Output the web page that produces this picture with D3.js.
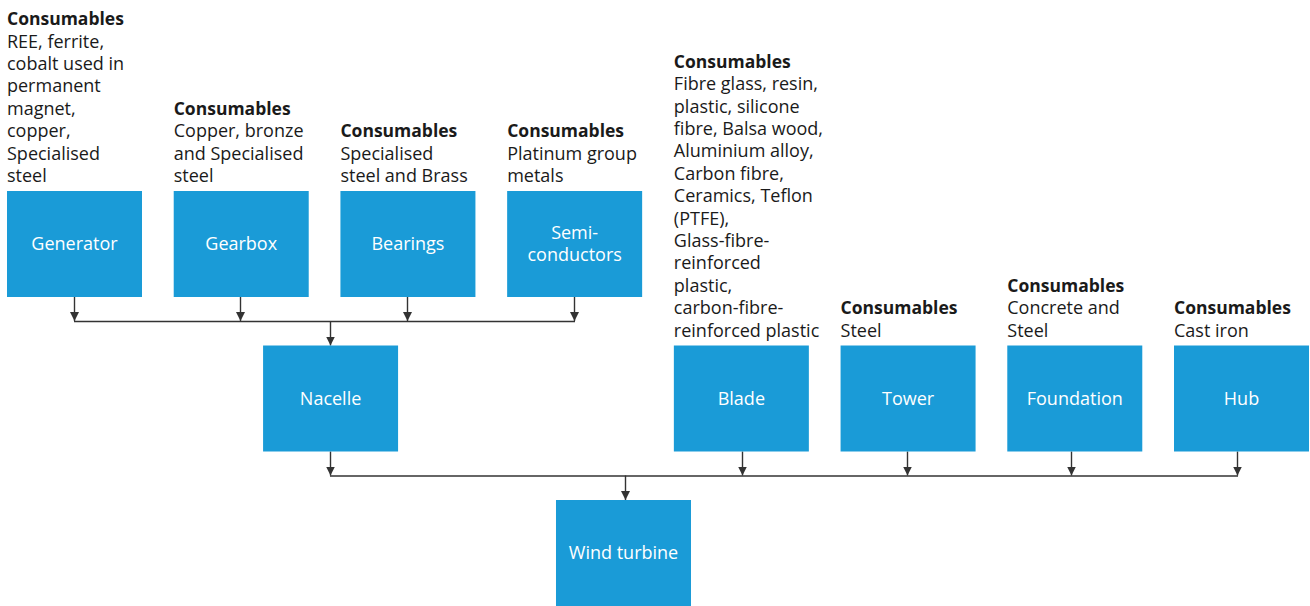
<!DOCTYPE html>
<html>
<head>
<meta charset="utf-8">
<script src="https://cdn.jsdelivr.net/npm/d3@7/dist/d3.min.js"></script>
<style>
	body { margin: 0; background: #fff; }
	svg { display: block; font-family: "Open Sans", sans-serif; }
</style>
</head>
<body>
<script>
"use strict";

// Parts of each tier (bottom-up)
let parts = ["Generator", "Gearbox", "Bearings", "Semi-|conductors"];
let partConsumables = [
	["REE, ferrite,", "cobalt used in", "permanent", "magnet,", "copper,", "Specialised", "steel"],
	["Copper, bronze", "and Specialised", "steel"],
	["Specialised", "steel and Brass"],
	["Platinum group", "metals"]
];

let assemblies = ["Nacelle", "Blade", "Tower", "Foundation", "Hub"];
let assemblyConsumables = [
	[],
	["Fibre glass, resin,", "plastic, silicone", "fibre, Balsa wood,", "Aluminium alloy,",
	 "Carbon fibre,", "Ceramics, Teflon", "(PTFE),", "Glass-fibre-", "reinforced",
	 "plastic,", "carbon-fibre-", "reinforced plastic"],
	["Steel"],
	["Concrete and", "Steel"],
	["Cast iron"]
];

let product = ["Wind turbine"];

// Which tier each node feeds into
let partTarget = "Nacelle";
let assemblyTarget = "Wind turbine";

function init() {

	let width = 1310,
		height = 606;

	let boxW = 135,
		boxH = 106,
		blue = "#1a9bd7",
		ink = "#333333",
		fontSize = 18,
		boldSize = 17.5,
		lineH = 22.4;

	// column slots, 8 across the page
	let xCol = d3.scaleLinear().domain([0, 7]).range([7, 1174]);
	let yRow = d3.scaleLinear().domain([0, 2]).range([191, 500]);

	// node list with slot positions (arrow offsets from box centre, as drawn)
	let nodes = [];
	parts.forEach(function (p, i) {
		nodes.push({ name: p, row: 0, col: i, cons: partConsumables[i], target: partTarget, dx: -1 });
	});
	let assemblyCols = [1.536, 4, 5, 6, 7],
		assemblyDx = [-1, 1, -1, -4, -5];
	assemblies.forEach(function (p, i) {
		nodes.push({ name: p, row: 1, col: assemblyCols[i], cons: assemblyConsumables[i], target: assemblyTarget, dx: assemblyDx[i] });
	});
	nodes.push({ name: product[0], row: 2, col: 3.293, cons: [], target: null, dx: 2 });

	nodes.forEach(function (d) {
		d.x = xCol(d.col);
		d.y = yRow(d.row);
		d.cx = Math.round(d.x + boxW / 2 + d.dx);
	});

	let svg = d3.select("body").append("svg")
		.attr("width", width)
		.attr("height", height);

	svg.append("defs").append("marker")
		.attr("id", "arrow")
		.attr("viewBox", "0 0 10 10")
		.attr("refX", 10)
		.attr("refY", 5)
		.attr("markerUnits", "userSpaceOnUse")
		.attr("markerWidth", 9)
		.attr("markerHeight", 9)
		.attr("orient", "auto")
		.append("path")
			.attr("d", "M0,0 L10,5 L0,10 Z")
			.attr("fill", ink);

	// Connectors: feeder -> bus -> target
	let links = svg.append("g").attr("class", "links")
		.attr("stroke", ink)
		.attr("stroke-width", 1.4)
		.attr("fill", "none");

	let byName = {};
	nodes.forEach(function (d) { byName[d.name] = d; });

	[partTarget, assemblyTarget].forEach(function (t) {
		let target = byName[t],
			feeders = nodes.filter(function (d) { return d.target === t; }),
			busY = feeders[0].y + boxH + 24;

		feeders.forEach(function (d) {
			links.append("line")
				.attr("x1", d.cx + 0.5).attr("x2", d.cx + 0.5)
				.attr("y1", d.y + boxH).attr("y2", busY)
				.attr("marker-end", "url(#arrow)");
		});

		let xs = feeders.map(function (d) { return d.cx; }).concat([target.cx]);
		links.append("line")
			.attr("x1", d3.min(xs)).attr("x2", d3.max(xs) + 1)
			.attr("y1", busY + 0.5).attr("y2", busY + 0.5);

		links.append("line")
			.attr("x1", target.cx + 0.5).attr("x2", target.cx + 0.5)
			.attr("y1", busY).attr("y2", target.y)
			.attr("marker-end", "url(#arrow)");
	});

	// Boxes
	let node = svg.selectAll(".node")
		.data(nodes)
		.enter()
		.append("g")
			.classed("node", true)
			.attr("transform", function (d) { return "translate(" + d.x + "," + d.y + ")"; });

	node.append("rect")
		.attr("width", boxW)
		.attr("height", boxH)
		.attr("fill", blue);

	node.each(function (d) {
		let lines = d.name.split("|");
		let t = d3.select(this).append("text")
			.attr("text-anchor", "middle")
			.attr("fill", "#fff")
			.attr("font-size", fontSize);
		lines.forEach(function (l, i) {
			t.append("tspan")
				.attr("x", boxW / 2)
				.attr("y", boxH / 2 + 6 + (i - (lines.length - 1) / 2) * lineH)
				.text(l);
		});
	});

	// Consumables labels sit on top of each box
	node.filter(function (d) { return d.cons.length > 0; })
		.each(function (d) {
			let allLines = ["Consumables"].concat(d.cons);
			let t = d3.select(this).append("text")
				.attr("fill", "#1a1a1a")
				.attr("font-size", fontSize);
			allLines.forEach(function (l, i) {
				t.append("tspan")
					.attr("x", 0)
					.attr("y", -9 - (allLines.length - 1 - i) * lineH)
					.attr("font-weight", i === 0 ? 700 : 400)
					.attr("font-size", i === 0 ? boldSize : fontSize)
					.text(l);
			});
		});
}

init();
</script>
</body>
</html>
